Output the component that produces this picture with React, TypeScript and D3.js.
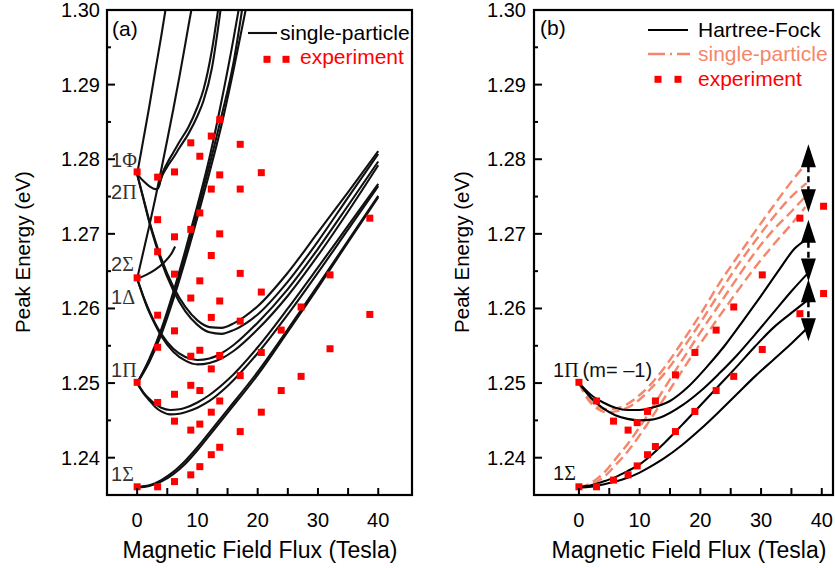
import React from 'react';
import * as d3 from 'd3';

type Pt = [number, number];

// ---------- axis ticks ----------
const energyTicks = [1.24, 1.25, 1.26, 1.27, 1.28, 1.29, 1.3];
const energyTickLabels = ['1.24', '1.25', '1.26', '1.27', '1.28', '1.29', '1.30'];
const energyMinorTicks = [1.245, 1.255, 1.265, 1.275, 1.285, 1.295];
const fieldTicks = [0, 10, 20, 30, 40];
const fieldTickLabels = ['0', '10', '20', '30', '40'];
const fieldMinorTicks = [5, 15, 25, 35];

// ---------- panel (a) experiment ----------
const expAField = [
  0, 0, 0, 0,
  3.4, 3.4, 3.4, 3.4, 3.4, 3.4, 3.4,
  6.2, 6.2, 6.2, 6.2, 6.2, 6.2, 6.2,
  8.9, 8.9, 8.9, 8.9, 8.9, 8.9, 8.9,
  10.4, 10.4, 10.4, 10.4, 10.4, 10.4, 10.4,
  12.3, 12.3, 12.3, 12.3, 12.3, 12.3, 12.3,
  13.7, 13.7, 13.7, 13.7, 13.7, 13.7, 13.7,
  17.1, 17.1, 17.1, 17.1, 17.1, 17.1,
  20.6, 20.6, 20.6, 20.6,
  23.9, 23.9,
  27.2, 27.2,
  32.0, 32.0,
  38.6, 38.6,
];
const expAEnergy = [
  1.2783, 1.2641, 1.2501, 1.2361,
  1.2776, 1.2719, 1.2676, 1.2591, 1.2548, 1.2474, 1.2361,
  1.2783, 1.2696, 1.2646, 1.257, 1.2485, 1.2449, 1.2368,
  1.2822, 1.2706, 1.2614, 1.2536, 1.2497, 1.2437, 1.2377,
  1.2804, 1.2728, 1.2637, 1.2544, 1.249, 1.2445, 1.2388,
  1.2831, 1.276, 1.2671, 1.2588, 1.2519, 1.2461, 1.2404,
  1.2853, 1.2779, 1.27, 1.261, 1.2537, 1.2476, 1.2414,
  1.282, 1.276, 1.2647, 1.2583, 1.251, 1.2435,
  1.2782, 1.2622, 1.2541, 1.2461,
  1.2571, 1.249,
  1.2602, 1.2509,
  1.2645, 1.2546,
  1.2721, 1.2592,
];

// ---------- panel (a) single-particle curves ----------
const sigmaA1: Pt[] = [[0, 1.236], [2, 1.2362], [4, 1.2368], [6, 1.2378], [8, 1.2392], [10, 1.241], [12, 1.243], [15, 1.246], [20, 1.2511], [25, 1.2569], [30, 1.2628], [35, 1.2689], [40, 1.2749]];
const sigmaA2: Pt[] = [[0, 1.2361], [2, 1.2363], [4, 1.237], [6, 1.2381], [8, 1.2396], [10, 1.2414], [12, 1.2434], [15, 1.2464], [20, 1.2515], [25, 1.2572], [30, 1.2631], [35, 1.2691], [40, 1.2751]];
const piMinusA1: Pt[] = [[0, 1.25], [1, 1.2487], [2, 1.2477], [3, 1.2468], [4, 1.2462], [5.5, 1.2458], [7, 1.2459], [8, 1.2461], [10, 1.2467], [12, 1.2476], [15, 1.2496], [20, 1.254], [25, 1.2592], [30, 1.2648], [35, 1.2706], [40, 1.2764]];
const piMinusA2: Pt[] = [[0, 1.25], [1, 1.2488], [2, 1.2479], [3, 1.2472], [4, 1.2467], [5.5, 1.2464], [7, 1.2465], [8, 1.2467], [10, 1.2474], [12, 1.2484], [15, 1.2504], [20, 1.2548], [25, 1.26], [30, 1.2655], [35, 1.2711], [40, 1.2767]];
const deltaMinusA1: Pt[] = [[0, 1.264], [1, 1.2616], [2, 1.2595], [3, 1.2578], [4, 1.2563], [6, 1.2542], [8, 1.253], [10, 1.2525], [12, 1.2527], [14, 1.2533], [16, 1.2543], [20, 1.2572], [25, 1.2617], [30, 1.2671], [35, 1.273], [40, 1.2792]];
const deltaMinusA2: Pt[] = [[0, 1.264], [1, 1.2617], [2, 1.2597], [3, 1.258], [4, 1.2566], [6, 1.2546], [8, 1.2535], [10, 1.2531], [12, 1.2533], [14, 1.254], [16, 1.2551], [20, 1.2581], [25, 1.2626], [30, 1.268], [35, 1.2738], [40, 1.2797]];
const phiMinusA1: Pt[] = [[0, 1.278], [1, 1.2748], [2, 1.2716], [3, 1.2688], [4, 1.2663], [6, 1.2624], [8, 1.2596], [10, 1.2578], [12, 1.2568], [14, 1.2566], [16, 1.2571], [20, 1.2592], [25, 1.2636], [30, 1.269], [35, 1.2749], [40, 1.2807]];
const phiMinusA2: Pt[] = [[0, 1.278], [1, 1.2749], [2, 1.2718], [3, 1.2691], [4, 1.2667], [6, 1.2629], [8, 1.2602], [10, 1.2584], [12, 1.2575], [14, 1.2574], [16, 1.258], [20, 1.2603], [25, 1.2648], [30, 1.2702], [35, 1.2756], [40, 1.2811]];
const phiPlusA: Pt[] = [[0, 1.278], [1, 1.2825], [2, 1.287], [3, 1.2918], [4, 1.2965], [4.8, 1.3005]];
const deltaPlusA: Pt[] = [[0, 1.264], [1, 1.2675], [2, 1.271], [3, 1.2747], [4, 1.2786], [5, 1.2826], [6, 1.2867], [7, 1.291], [8, 1.2955], [9, 1.3], [9.3, 1.3012]];
const twoSigmaA: Pt[] = [[0, 1.264], [1.5, 1.2645], [3, 1.2652], [4.5, 1.2662], [5.8, 1.2675], [6.3, 1.2683]];
const twoPiMinusA1: Pt[] = [[0, 1.278], [1, 1.2771], [2, 1.2764], [3, 1.276], [3.5, 1.2761], [3.8, 1.277], [4.2, 1.2781], [5, 1.2795], [6, 1.2809], [7, 1.2823], [8.5, 1.2843], [10, 1.287], [11, 1.2893], [12.4, 1.2946], [13.5, 1.3004]];
const twoPiMinusA2: Pt[] = [[3.6, 1.2763], [3.9, 1.2772], [5, 1.279], [6, 1.2802], [7, 1.2815], [8.5, 1.2834], [10, 1.2858], [11, 1.2878], [12.4, 1.2922], [13.9, 1.3004]];
const piPlusA1: Pt[] = [[0, 1.25], [2, 1.2532], [4, 1.2572], [6, 1.2622], [8, 1.2678], [10, 1.2738], [12, 1.2802], [14, 1.2878], [16, 1.2962], [16.9, 1.3003]];
const piPlusA2: Pt[] = [[0, 1.25], [2, 1.253], [4, 1.2568], [6, 1.2617], [8, 1.2671], [10, 1.273], [12, 1.2792], [14, 1.2858], [16, 1.293], [17.4, 1.3]];
const piPlusA3: Pt[] = [[0, 1.25], [2, 1.2528], [4, 1.2565], [6, 1.2612], [8, 1.2665], [10, 1.2722], [12, 1.2782], [14, 1.2846], [16, 1.292], [18, 1.3]];

// ---------- panel (b) experiment ----------
const expBField = [0, 2.9, 5.7, 8.1, 9.6, 11.3, 12.6, 15.9, 19.1, 22.6, 25.5, 30.2, 36.4, 40.3];
const expBUpper = [1.2501, 1.2476, 1.2449, 1.2437, 1.2447, 1.2462, 1.2476, 1.2511, 1.2541, 1.2571, 1.2602, 1.2645, 1.2721, 1.2737];
const expBLower = [1.2361, 1.2361, 1.237, 1.2377, 1.2389, 1.2404, 1.2415, 1.2435, 1.2462, 1.249, 1.2509, 1.2545, 1.2593, 1.262];

// ---------- panel (b) Hartree-Fock ----------
const hfB1: Pt[] = [[0, 1.25], [2, 1.2484], [4, 1.2474], [6, 1.2467], [8, 1.2464], [10, 1.2464], [12, 1.2467], [15, 1.2476], [18, 1.2495], [21, 1.2521], [24, 1.255], [27, 1.2583], [30, 1.2617], [33, 1.2652], [35.5, 1.268], [37.8, 1.2694]];
const hfB2: Pt[] = [[0, 1.25], [2, 1.248], [4, 1.2466], [6, 1.2457], [8, 1.2452], [10, 1.245], [12, 1.2451], [14, 1.2456], [17, 1.247], [20, 1.2489], [23, 1.2512], [26, 1.2537], [29, 1.2565], [32, 1.2594], [35, 1.2623], [37.8, 1.2648]];
const hfB3: Pt[] = [[0, 1.2361], [2, 1.2363], [4, 1.2368], [6, 1.2374], [8, 1.2382], [10, 1.2391], [12, 1.2404], [14, 1.2419], [17, 1.2444], [20, 1.247], [23, 1.2496], [26, 1.2522], [29, 1.2549], [32, 1.2574], [35, 1.2594], [37.8, 1.2612]];
const hfB4: Pt[] = [[0, 1.236], [2, 1.2361], [4, 1.2364], [6, 1.2368], [8, 1.2373], [10, 1.238], [12, 1.2389], [14, 1.2399], [17, 1.2417], [20, 1.2438], [23, 1.2461], [26, 1.2485], [29, 1.2509], [32, 1.2531], [35, 1.2553], [37.8, 1.2575]];

// ---------- panel (b) single-particle ----------
const spB1: Pt[] = [[0, 1.25], [1.5, 1.248], [3, 1.2469], [4.5, 1.2465], [6, 1.2466], [8, 1.2472], [10, 1.2484], [12, 1.25], [14, 1.252], [17, 1.2555], [20, 1.2592], [23, 1.2632], [26, 1.2668], [29, 1.2703], [32, 1.2737], [35, 1.277], [37.3, 1.2793]];
const spB2: Pt[] = [[0, 1.25], [1.5, 1.2478], [3, 1.2466], [4.5, 1.2461], [6, 1.2462], [8, 1.2467], [10, 1.2478], [12, 1.2494], [14, 1.2512], [17, 1.2545], [20, 1.2581], [23, 1.2619], [26, 1.2656], [29, 1.269], [32, 1.2722], [35, 1.275], [37.5, 1.2768]];
const spB3: Pt[] = [[0, 1.2361], [1.5, 1.2364], [3, 1.2372], [4.5, 1.2383], [6, 1.2398], [8, 1.2418], [10, 1.2441], [12, 1.2466], [14, 1.2492], [16, 1.2518], [18, 1.2543], [20, 1.2568], [23, 1.2604], [26, 1.264], [29, 1.2675], [32, 1.2705], [35, 1.273], [37.3, 1.275]];
const spB4: Pt[] = [[0, 1.236], [1.5, 1.2362], [3, 1.2368], [4.5, 1.2377], [6, 1.239], [8, 1.2408], [10, 1.243], [12, 1.2454], [14, 1.2479], [16, 1.2504], [18, 1.2529], [20, 1.2553], [23, 1.2588], [26, 1.2622], [29, 1.2655], [32, 1.2685], [35, 1.2713], [37.3, 1.2736]];

// ---------- panel (b) arrows ----------
const arrowField = 37.8;
const arrowTop = [1.282, 1.2719, 1.2639];
const arrowBottom = [1.2729, 1.2636, 1.2556];

// ---------- state labels (baseline energy) ----------
const labelsA = [
  { num: '1', greek: 'Φ', e: 1.279 },
  { num: '2', greek: 'Π', e: 1.2747 },
  { num: '2', greek: 'Σ', e: 1.265 },
  { num: '1', greek: 'Δ', e: 1.2606 },
  { num: '1', greek: 'Π', e: 1.2508 },
  { num: '1', greek: 'Σ', e: 1.2369 },
];

const W = 835;
const H = 568;
const SALMON = '#f4876b';
const SANS = '"Liberation Sans", Arial, sans-serif';
const SERIF = '"Liberation Serif", "Times New Roman", serif';

type Box = { left: number; right: number; top: number; bottom: number; x0: number; x1: number };
const boxA: Box = { left: 107, right: 412, top: 10, bottom: 495, x0: -5, x1: 45.6 };
const boxB: Box = { left: 534, right: 833, top: 10, bottom: 495, x0: -7.4, x1: 41.85 };

function makeScales(b: Box) {
  const x = d3.scaleLinear().domain([b.x0, b.x1]).range([b.left, b.right]);
  const y = d3.scaleLinear().domain([1.235, 1.3]).range([b.bottom, b.top]);
  return { x, y };
}

function Axes({ b, labelRight, titleX, ytitleX }: { b: Box; labelRight: number; titleX: number; ytitleX: number }) {
  const { x, y } = makeScales(b);
  const midY = 252;
  return (
    <g>
      {energyTicks.map((t, i) => (
        <g key={'ym' + i}>
          <line x1={b.left} x2={b.left + 8} y1={y(t)} y2={y(t)} stroke="#000" strokeWidth={2} />
          <text x={labelRight} y={y(t) + 7} textAnchor="end" fontSize={20} fontFamily={SANS}>{energyTickLabels[i]}</text>
        </g>
      ))}
      {energyMinorTicks.map((t, i) => (
        <line key={'yn' + i} x1={b.left} x2={b.left + 4} y1={y(t)} y2={y(t)} stroke="#000" strokeWidth={2} />
      ))}
      {fieldTicks.map((t, i) => (
        <g key={'xm' + i}>
          <line x1={x(t)} x2={x(t)} y1={b.bottom} y2={b.bottom - 7} stroke="#000" strokeWidth={2} />
          <text x={x(t)} y={527} textAnchor="middle" fontSize={20} fontFamily={SANS}>{fieldTickLabels[i]}</text>
        </g>
      ))}
      {fieldMinorTicks.map((t, i) => (
        <line key={'xn' + i} x1={x(t)} x2={x(t)} y1={b.bottom} y2={b.bottom - 7} stroke="#000" strokeWidth={2} />
      ))}
      <rect x={b.left} y={b.top} width={b.right - b.left} height={b.bottom - b.top} fill="none" stroke="#000" strokeWidth={2.2} />
      <text x={titleX} y={558} textAnchor="middle" fontSize={23} fontFamily={SANS}>Magnetic Field Flux (Tesla)</text>
      <text transform={`translate(${ytitleX},${midY}) rotate(-90)`} textAnchor="middle" fontSize={20.5} fontFamily={SANS}>Peak Energy (eV)</text>
    </g>
  );
}

function Squares({ b, xs, ys }: { b: Box; xs: number[]; ys: number[] }) {
  const { x, y } = makeScales(b);
  const s = 7;
  return (
    <g>
      {xs.map((v, i) => (
        <rect key={i} x={x(v) - s / 2} y={y(ys[i]) - s / 2} width={s} height={s} fill="#ff0000" />
      ))}
    </g>
  );
}

export default function App() {
  const sa = makeScales(boxA);
  const sb = makeScales(boxB);
  const lineA = d3.line<Pt>().x((d) => sa.x(d[0])).y((d) => sa.y(d[1])).curve(d3.curveMonotoneX);
  const lineB = d3.line<Pt>().x((d) => sb.x(d[0])).y((d) => sb.y(d[1])).curve(d3.curveMonotoneX);

  const curvesA = [sigmaA1, sigmaA2, piMinusA1, piMinusA2, deltaMinusA1, deltaMinusA2, phiMinusA1, phiMinusA2, phiPlusA, deltaPlusA, twoSigmaA, twoPiMinusA1, twoPiMinusA2, piPlusA1, piPlusA2, piPlusA3];
  const hfB = [hfB1, hfB2, hfB3, hfB4];
  const spB = [spB1, spB2, spB3, spB4];

  const ax = sb.x(arrowField);

  return (
    <svg width={W} height={H} style={{ position: 'absolute', left: 0, top: 0, background: '#fff' }} xmlns="http://www.w3.org/2000/svg">
      <defs>
        <clipPath id="clipA"><rect x={boxA.left} y={boxA.top} width={boxA.right - boxA.left} height={boxA.bottom - boxA.top} /></clipPath>
        <clipPath id="clipB"><rect x={boxB.left} y={boxB.top} width={boxB.right - boxB.left} height={boxB.bottom - boxB.top} /></clipPath>
      </defs>
      <rect x={0} y={0} width={W} height={H} fill="#fff" />

      {/* ---------- panel (a) ---------- */}
      <g clipPath="url(#clipA)">
        {curvesA.map((c, i) => (
          <path key={i} d={lineA(c) || ''} fill="none" stroke="#111" strokeWidth={2.1} />
        ))}
        <Squares b={boxA} xs={expAField} ys={expAEnergy} />
      </g>
      {labelsA.map((l, i) => (
        <text key={i} x={111} y={sa.y(l.e)} fontSize={20} fill="#333">
          <tspan fontFamily={SANS}>{l.num}</tspan>
          <tspan fontFamily={SERIF}>{l.greek}</tspan>
        </text>
      ))}
      <text x={112} y={36} fontSize={21} fontFamily={SANS}>(a)</text>
      <line x1={248} x2={277} y1={33} y2={33} stroke="#111" strokeWidth={2.1} />
      <text x={280} y={40} fontSize={21} fontFamily={SANS}>single-particle</text>
      <rect x={263.5} y={55.8} width={7} height={7} fill="#ff0000" />
      <rect x={282.5} y={55.8} width={7} height={7} fill="#ff0000" />
      <text x={300} y={64} fontSize={21} fontFamily={SANS} fill="#ff0000">experiment</text>
      <Axes b={boxA} labelRight={100} titleX={260} ytitleX={30} />

      {/* ---------- panel (b) ---------- */}
      <g clipPath="url(#clipB)">
        {spB.map((c, i) => (
          <path key={'sp' + i} d={lineB(c) || ''} fill="none" stroke={SALMON} strokeWidth={2.4} strokeDasharray="10,5" />
        ))}
        {hfB.map((c, i) => (
          <path key={'hf' + i} d={lineB(c) || ''} fill="none" stroke="#000" strokeWidth={2.1} />
        ))}
        {arrowTop.map((t, i) => {
          const yt = sb.y(t);
          const yb = sb.y(arrowBottom[i]);
          return (
            <g key={'ar' + i}>
              <line x1={ax} x2={ax} y1={yt + 12} y2={yb - 12} stroke="#000" strokeWidth={2.5} strokeDasharray="6,4" />
              <polygon points={`${ax},${yt} ${ax - 7.5},${yt + 23} ${ax + 7.5},${yt + 23}`} fill="#000" />
              <polygon points={`${ax},${yb} ${ax - 7.5},${yb - 23} ${ax + 7.5},${yb - 23}`} fill="#000" />
            </g>
          );
        })}
        <Squares b={boxB} xs={expBField} ys={expBUpper} />
        <Squares b={boxB} xs={expBField} ys={expBLower} />
      </g>
      <text x={540} y={35} fontSize={21} fontFamily={SANS}>(b)</text>
      <line x1={648} x2={688} y1={30} y2={30} stroke="#000" strokeWidth={2.1} />
      <text x={698} y={37} fontSize={21} fontFamily={SANS}>Hartree-Fock</text>
      <line x1={648} x2={690} y1={54} y2={54} stroke={SALMON} strokeWidth={2.4} strokeDasharray="17,5,2,5" />
      <text x={698} y={61} fontSize={21} fontFamily={SANS} fill={SALMON}>single-particle</text>
      <rect x={654.5} y={75.8} width={7} height={7} fill="#ff0000" />
      <rect x={674.5} y={75.8} width={7} height={7} fill="#ff0000" />
      <text x={698} y={86} fontSize={21} fontFamily={SANS} fill="#ff0000">experiment</text>
      <text x={553} y={377} fontSize={20} fill="#111">
        <tspan fontFamily={SANS}>1</tspan>
        <tspan fontFamily={SERIF}>Π</tspan>
        <tspan fontFamily={SANS} dx={4}>(m= –1)</tspan>
      </text>
      <text x={553} y={480} fontSize={20} fill="#111">
        <tspan fontFamily={SANS}>1</tspan>
        <tspan fontFamily={SERIF}>Σ</tspan>
      </text>
      <Axes b={boxB} labelRight={526} titleX={689} ytitleX={469} />
    </svg>
  );
}
